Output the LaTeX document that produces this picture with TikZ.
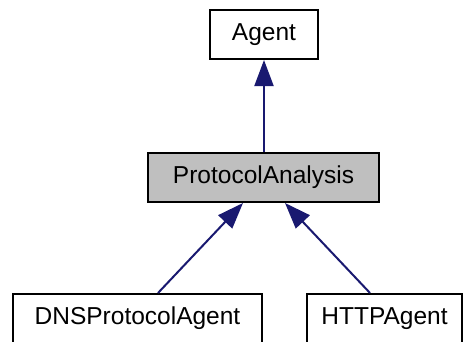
\documentclass[tikz,border=0pt]{standalone}
\usepackage{fontspec}
\setmainfont{Liberation Sans}
\usetikzlibrary{arrows.meta}
\definecolor{edgeblue}{HTML}{191970}
\definecolor{boxgray}{HTML}{BFBFBF}
\tikzset{
  classbox/.style={draw=black, line width=2pt, minimum height=49pt, inner sep=0pt,
    font=\fontsize{24.5}{29}\selectfont, text=black},
  inherit/.style={draw=edgeblue, line width=2pt,
    -{Triangle[length=26pt,width=19pt,fill=edgeblue]}}
}
\begin{document}
\begin{tikzpicture}[x=1pt,y=1pt]
  \useasboundingbox (0,0) rectangle (465,341);
  \node[classbox, minimum width=108pt] (agent) at (264,306.5) {Agent};
  \node[classbox, minimum width=231pt, fill=boxgray] (pa) at (263.5,163.5) {ProtocolAnalysis};
  \node[classbox, minimum width=249pt] (dns) at (137.5,22.5) {DNSProtocolAgent};
  \node[classbox, minimum width=155pt] (http) at (384.5,22.5) {HTTPAgent};
  \draw[inherit] (pa.north -| agent.south) -- (agent.south);
  \draw[inherit] ([xshift=20.5pt]dns.north) -- ([xshift=-20.5pt]pa.south);
  \draw[inherit] ([xshift=-14.5pt]http.north) -- ([xshift=21.5pt]pa.south);
\end{tikzpicture}
\end{document}
